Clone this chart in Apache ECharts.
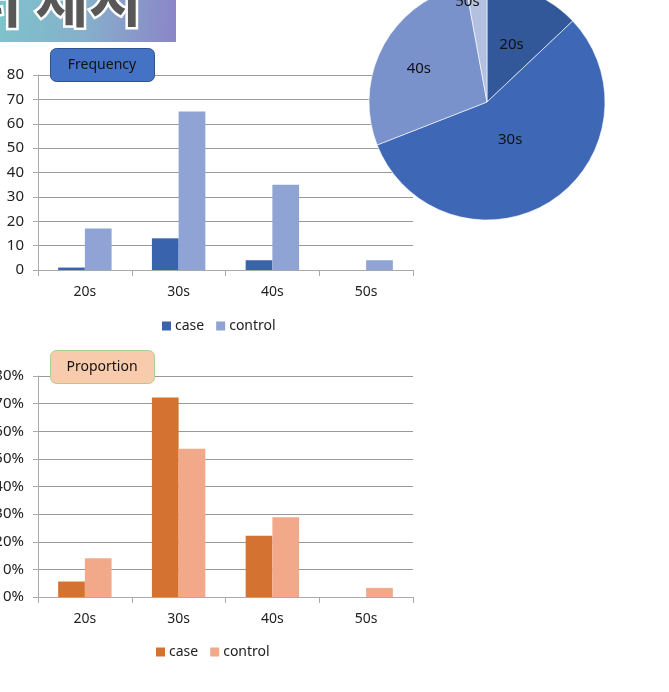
<!DOCTYPE html>
<html>
<head>
<meta charset="utf-8">
<script src="https://cdn.jsdelivr.net/npm/echarts@6/dist/echarts.min.js"></script>
<style>
  html, body { margin: 0; padding: 0; background: #fff; }
  #chart { width: 669px; height: 692px; }
</style>
</head>
<body>
<div id="chart"></div>
<script>
// age groups
var categories = ['20s', '30s', '40s', '50s'];
// frequency (counts)
var freqCase = [1, 13, 4, 0];
var freqControl = [17, 65, 35, 4];
// proportion (%)
var propCase = [5.6, 72.2, 22.2, 0];
var propControl = [14.0, 53.7, 28.9, 3.3];
// pie (case + control totals)
var pieValues = [18, 78, 39, 4];

var font = '"Noto Sans", "Noto Sans CJK KR", sans-serif';
var blueCase = '#3A63AD', blueControl = '#8FA3D4';
var orangeCase = '#D47231', orangeControl = '#F2A98A';
var pieColors = ['#335899', '#3E68B6', '#7A92CB', '#B3C0E0'];
// label nudges for the pie (excel places them by "best fit")
var pieOffsets = [[0, 0], [-10, -15], [-14, -3], [-14, -39]];

var myChart = echarts.init(document.getElementById('chart'), null, { renderer: 'canvas' });

function valueAxis(gridIndex, fmt) {
	return {
		type: 'value',
		gridIndex: gridIndex,
		min: 0,
		max: 80,
		interval: 10,
		axisLine: { show: true, lineStyle: { color: '#aaa' } },
		axisTick: { show: true, length: 5, lineStyle: { color: '#aaa' } },
		axisLabel: { color: '#222', fontSize: 15, fontFamily: font, margin: 14, formatter: fmt },
		splitLine: { lineStyle: { color: '#999', width: 1 } }
	};
}

function catAxis(gridIndex) {
	return {
		type: 'category',
		gridIndex: gridIndex,
		data: categories,
		axisLine: { lineStyle: { color: '#aaa' } },
		axisTick: { show: true, length: 6, lineStyle: { color: '#aaa' } },
		axisLabel: { color: '#222', fontSize: 14, fontFamily: font, margin: 15 }
	};
}

var option = {
	animation: false,
	backgroundColor: '#fff',
	grid: [
		{ left: 38, right: 256, top: 75, bottom: 422, outerBoundsMode: 'none' },
		{ left: 38, right: 256, top: 376, bottom: 95, outerBoundsMode: 'none' }
	],
	xAxis: [catAxis(0), catAxis(1)],
	yAxis: [valueAxis(0, '{value}'), valueAxis(1, '{value}%')],
	legend: [
		{
			left: 157, top: 314,
			itemWidth: 9, itemHeight: 9, itemGap: 12,
			icon: 'rect',
			textStyle: { color: '#222', fontSize: 14, fontFamily: font, padding: [0, 0, 0, -1] },
			data: [
				{ name: 'case', itemStyle: { color: blueCase } },
				{ name: 'control', itemStyle: { color: blueControl } }
			]
		},
		{
			left: 151, top: 640,
			itemWidth: 9, itemHeight: 9, itemGap: 12,
			icon: 'rect',
			textStyle: { color: '#222', fontSize: 14, fontFamily: font, padding: [0, 0, 0, -1] },
			data: [
				{ name: 'case', itemStyle: { color: orangeCase } },
				{ name: 'control', itemStyle: { color: orangeControl } }
			]
		}
	],
	series: [
		{
			name: 'case', type: 'bar', xAxisIndex: 0, yAxisIndex: 0,
			data: freqCase, barGap: '0%', barCategoryGap: '43%',
			itemStyle: { color: blueCase }
		},
		{
			name: 'control', type: 'bar', xAxisIndex: 0, yAxisIndex: 0,
			data: freqControl, barGap: '0%', barCategoryGap: '43%',
			itemStyle: { color: blueControl }
		},
		{
			name: 'case', type: 'bar', xAxisIndex: 1, yAxisIndex: 1,
			data: propCase, barGap: '0%', barCategoryGap: '43%',
			itemStyle: { color: orangeCase }
		},
		{
			name: 'control', type: 'bar', xAxisIndex: 1, yAxisIndex: 1,
			data: propControl, barGap: '0%', barCategoryGap: '43%',
			itemStyle: { color: orangeControl }
		},
		{
			name: 'age', type: 'pie',
			center: [487, 102],
			radius: [0, 118],
			startAngle: 90,
			clockwise: true,
			z: 5,
			itemStyle: { borderColor: '#fff', borderWidth: 0.6 },
			label: {
				position: 'inside',
				color: '#111',
				fontSize: 15,
				fontFamily: font,
				formatter: '{b}'
			},
			labelLine: { show: false },
			data: categories.map(function (c, i) {
				return {
					name: c,
					value: pieValues[i],
					itemStyle: { color: pieColors[i] },
					label: { offset: pieOffsets[i] }
				};
			})
		}
	],
	graphic: [
		{
			type: 'rect',
			z: 10,
			shape: { x: 0, y: 0, width: 176, height: 42 },
			style: {
				fill: new echarts.graphic.LinearGradient(0, 0, 1, 0.3, [
					{ offset: 0, color: '#7EC3CB' },
					{ offset: 0.5, color: '#86AFCB' },
					{ offset: 1, color: '#8B86C8' }
				])
			}
		},
		{
			type: 'text',
			z: 11,
			x: 142,
			y: 29,
			style: {
				text: '데이터 제시',
				font: 'bold 58px "Noto Sans CJK KR"',
				fill: '#585858',
				stroke: '#fff',
				lineWidth: 5,
				align: 'right',
				verticalAlign: 'bottom'
			}
		},
		{
			type: 'rect',
			z: 10,
			shape: { x: 50.5, y: 48.5, width: 104, height: 33, r: 6 },
			style: { fill: '#4472C4', stroke: '#2F528F', lineWidth: 1 }
		},
		{
			type: 'text',
			z: 11,
			x: 102,
			y: 65,
			style: {
				text: 'Frequency',
				font: '14px "Noto Sans"',
				fill: '#111',
				align: 'center',
				verticalAlign: 'middle'
			}
		},
		{
			type: 'rect',
			z: 10,
			shape: { x: 50.5, y: 350.5, width: 104, height: 33, r: 6 },
			style: { fill: '#F8CBAD', stroke: '#A9D18E', lineWidth: 1 }
		},
		{
			type: 'text',
			z: 11,
			x: 102,
			y: 367,
			style: {
				text: 'Proportion',
				font: '14px "Noto Sans"',
				fill: '#111',
				align: 'center',
				verticalAlign: 'middle'
			}
		}
	]
};

myChart.setOption(option);
</script>
</body>
</html>
